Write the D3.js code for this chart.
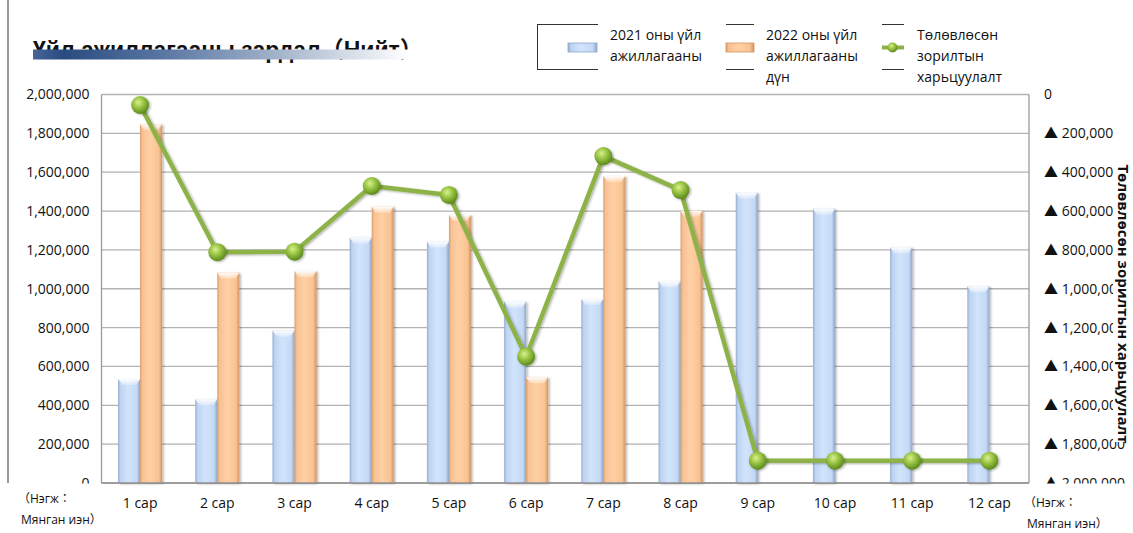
<!DOCTYPE html>
<html>
<head>
<meta charset="utf-8">
<script src="https://cdn.jsdelivr.net/npm/d3@7/dist/d3.min.js"></script>
<style>
  html, body { margin: 0; padding: 0; background: #fff; }
  svg { display: block; }
</style>
</head>
<body>
<svg id="chart" width="1133" height="533"></svg>
<script>
// Monthly categories
const categories = ['1 сар', '2 сар', '3 сар', '4 сар', '5 сар', '6 сар',
                    '7 сар', '8 сар', '9 сар', '10 сар', '11 сар', '12 сар'];

// 2021 operations (left axis)
const ops2021 = [535000, 431000, 784000, 1263000, 1242000, 933000,
                 947000, 1038000, 1494000, 1412000, 1213000, 1013000];

// 2022 operations result (left axis), only first 8 months
const ops2022 = [1847000, 1083000, 1091000, 1422000, 1380000, 544000,
                 1580000, 1402000, null, null, null, null];

// Plan target comparison (right axis, reversed)
const planCompare = [54000, 812000, 809000, 471000, 517000, 1350000,
                     317000, 492000, 1885000, 1885000, 1885000, 1885000];

// Axis ticks
const leftTicks = [0, 200000, 400000, 600000, 800000, 1000000,
                   1200000, 1400000, 1600000, 1800000, 2000000];
const rightTicks = leftTicks;

const seriesNames = ['2021 оны үйл ажиллагааны', '2022 оны үйл ажиллагааны дүн', 'Төлөвлөсөн зорилтын харьцуулалт'];

const svg = d3.select('#chart');
const FONT = "'Open Sans', 'Noto Sans', 'Noto Sans CJK JP', sans-serif";

const plot = { left: 101.5, right: 1029, top: 94.5, bottom: 483 };

const x0 = d3.scaleBand().domain(categories)
  .range([plot.left, 1028]).paddingInner(0.43).paddingOuter(0.215);
const x1 = d3.scaleBand().domain(['a', 'b']).range([0, x0.bandwidth()]);
const y = d3.scaleLinear().domain([0, 2000000]).range([plot.bottom, plot.top]);
const yR = d3.scaleLinear().domain([0, 2000000]).range([plot.top, plot.bottom]);

// ---- defs: gradients, filters, clip
const defs = svg.append('defs');

function hGrad(id, stops) {
  const g = defs.append('linearGradient').attr('id', id)
    .attr('x1', '0%').attr('x2', '100%').attr('y1', '0%').attr('y2', '0%');
  stops.forEach(s => g.append('stop').attr('offset', s[0]).attr('stop-color', s[1]));
}
hGrad('gBlue', [['0%', '#93abd0'], ['10%', '#bdd3f1'], ['45%', '#d2e4fc'], ['85%', '#c4d9f5'], ['100%', '#8ea6ca']]);
hGrad('gOrange', [['0%', '#d99c68'], ['10%', '#f7c193'], ['45%', '#ffd0a4'], ['85%', '#f9c393'], ['100%', '#d4945f']]);
hGrad('gTitle', [['0%', '#47669a'], ['8%', '#2a4b80'], ['35%', '#5a77a3'], ['65%', '#a3b3ca'], ['100%', '#ffffff']]);

const bevel = defs.append('linearGradient').attr('id', 'gBevel')
  .attr('x1', '0%').attr('x2', '0%').attr('y1', '0%').attr('y2', '100%');
bevel.append('stop').attr('offset', '0%').attr('stop-color', '#ffffff').attr('stop-opacity', 0.95);
bevel.append('stop').attr('offset', '100%').attr('stop-color', '#ffffff').attr('stop-opacity', 0.25);

const rg = defs.append('radialGradient').attr('id', 'gDot')
  .attr('cx', '40%').attr('cy', '35%').attr('r', '65%');
rg.append('stop').attr('offset', '0%').attr('stop-color', '#d8f08e');
rg.append('stop').attr('offset', '45%').attr('stop-color', '#9cc646');
rg.append('stop').attr('offset', '100%').attr('stop-color', '#5b8a1c');

const shadow = defs.append('filter').attr('id', 'shadow')
  .attr('x', '-30%').attr('y', '-10%').attr('width', '160%').attr('height', '130%');
shadow.append('feDropShadow').attr('dx', 1.5).attr('dy', 1).attr('stdDeviation', 1.2)
  .attr('flood-color', '#000').attr('flood-opacity', 0.3);

// tick labels are cut off just below the plot's bottom edge
defs.append('clipPath').attr('id', 'labelClip')
  .append('rect').attr('x', 0).attr('y', 0).attr('width', 1133).attr('height', 483.5);

// ---- frame line at left
svg.append('line').attr('x1', 8).attr('x2', 8).attr('y1', 0).attr('y2', 483)
  .attr('stroke', '#9a9a9a').attr('stroke-width', 2);

// ---- gridlines
svg.append('g').selectAll('line').data(leftTicks).join('line')
  .attr('x1', plot.left).attr('x2', plot.right)
  .attr('y1', d => y(d)).attr('y2', d => y(d))
  .attr('stroke', '#b2b2b2').attr('stroke-width', 1.3);

// ---- axes lines
svg.append('line').attr('x1', plot.left).attr('x2', plot.left)
  .attr('y1', plot.top).attr('y2', plot.bottom).attr('stroke', '#9a9a9a').attr('stroke-width', 1.3);
svg.append('line').attr('x1', plot.right).attr('x2', plot.right)
  .attr('y1', plot.top).attr('y2', plot.bottom).attr('stroke', '#9a9a9a').attr('stroke-width', 1.3);

const labelLayer = svg.append('g').attr('clip-path', 'url(#labelClip)');

// ---- left axis labels
const leftAxis = d3.axisLeft(y).tickValues(leftTicks).tickFormat(d3.format(',')).tickSize(0).tickPadding(12);
const gL = labelLayer.append('g').attr('transform', `translate(${plot.left},0)`).call(leftAxis);
gL.select('.domain').remove();
gL.selectAll('text').attr('font-family', FONT).attr('font-size', 14).attr('fill', '#111');

// ---- right axis labels
const rightAxis = d3.axisRight(yR).tickValues(rightTicks)
  .tickFormat(d => d === 0 ? '0' : '▲ ' + d3.format(',')(d)).tickSize(0).tickPadding(15);
const gR = labelLayer.append('g').attr('transform', `translate(${plot.right},0)`).call(rightAxis);
gR.select('.domain').remove();
gR.selectAll('text').attr('font-family', FONT).attr('font-size', 14).attr('fill', '#111');

// ---- bars
function drawBars(values, key, fill) {
  const g = svg.append('g');
  const data = values.map((v, i) => ({ v, c: categories[i] })).filter(d => d.v != null);
  const grp = g.selectAll('g').data(data).join('g').attr('filter', 'url(#shadow)');
  grp.append('rect')
    .attr('x', d => x0(d.c) + x1(key))
    .attr('y', d => y(d.v))
    .attr('width', x1.bandwidth())
    .attr('height', d => y(0) - y(d.v))
    .attr('fill', fill);
  // bevelled top highlight
  grp.append('path')
    .attr('d', d => {
      const xa = x0(d.c) + x1(key), xb = xa + x1.bandwidth(), t = y(d.v);
      return `M${xa},${t}L${xb},${t}L${xb - 4},${t + 6}L${xa + 4},${t + 6}Z`;
    })
    .attr('fill', 'url(#gBevel)');
}
drawBars(ops2021, 'a', 'url(#gBlue)');
drawBars(ops2022, 'b', 'url(#gOrange)');

// ---- x axis line and category labels
svg.append('line').attr('x1', plot.left).attr('x2', plot.right)
  .attr('y1', plot.bottom).attr('y2', plot.bottom).attr('stroke', '#8f8f8f').attr('stroke-width', 1.5);
const xAxis = d3.axisBottom(x0).tickSize(0).tickPadding(0);
const gX = svg.append('g').attr('transform', 'translate(0,508)').call(xAxis);
gX.select('.domain').remove();
gX.selectAll('text').attr('dy', 0).attr('font-family', FONT).attr('font-size', 14).attr('fill', '#111');

// ---- comparison line
const lineGen = d3.line()
  .x((d, i) => x0(categories[i]) + x0.bandwidth() / 2)
  .y(d => yR(d));
svg.append('path').datum(planCompare)
  .attr('d', lineGen).attr('fill', 'none')
  .attr('stroke', '#8db246').attr('stroke-width', 4.5).attr('stroke-linejoin', 'round')
  .attr('filter', 'url(#shadow)');
svg.append('g').selectAll('circle').data(planCompare).join('circle')
  .attr('cx', (d, i) => x0(categories[i]) + x0.bandwidth() / 2)
  .attr('cy', d => yR(d))
  .attr('r', 9)
  .attr('fill', 'url(#gDot)')
  .attr('filter', 'url(#shadow)');

// ---- unit labels
function unit(xp, y1, y2) {
  svg.append('text').attr('x', xp).attr('y', y1).text('（Нэгж：')
    .attr('font-family', FONT).attr('font-size', 12).attr('fill', '#111');
  svg.append('text').attr('x', xp + 3).attr('y', y2).text('Мянган иэн）')
    .attr('font-family', FONT).attr('font-size', 12).attr('fill', '#111');
}
unit(18, 503, 524);
unit(1024, 507, 528);

// ---- right axis title with white backing
const rTitle = svg.append('g').attr('transform', 'translate(1123,304) rotate(90)');
rTitle.append('rect').attr('x', -138).attr('y', -8).attr('width', 276).attr('height', 18).attr('fill', '#fff');
rTitle.append('text').attr('text-anchor', 'middle').attr('dy', '0.35em')
  .attr('font-family', FONT).attr('font-size', 15).attr('font-weight', 'bold').attr('fill', '#111')
  .text(seriesNames[2]);

// ---- chart title with gradient bar
svg.append('text').attr('x', 33).attr('y', 58)
  .attr('font-family', "'Liberation Sans', Arial, 'Noto Sans CJK JP', sans-serif")
  .attr('font-size', 23).attr('font-weight', 'bold').attr('fill', '#111')
  .text('Үйл ажиллагааны зардал（Нийт）');
svg.append('rect').attr('x', 33).attr('y', 49.5).attr('width', 376).attr('height', 10)
  .attr('fill', 'url(#gTitle)');

// ---- legend
const legend = svg.append('g');
const lineCol = '#333';
function hl(xa, xb, yy) {
  legend.append('line').attr('x1', xa).attr('x2', xb).attr('y1', yy).attr('y2', yy)
    .attr('stroke', lineCol).attr('stroke-width', 1);
}
// entry 1 frame
hl(537, 598, 24.5); hl(537, 598, 69.5);
legend.append('line').attr('x1', 537.5).attr('x2', 537.5).attr('y1', 24.5).attr('y2', 69.5)
  .attr('stroke', lineCol).attr('stroke-width', 1);
// entry 2 / 3 frames
hl(726, 754, 24.5); hl(726, 754, 69.5);
hl(882, 904, 24.5); hl(882, 904, 69.5);

legend.append('rect').attr('x', 568).attr('y', 43).attr('width', 29).attr('height', 9)
  .attr('fill', 'url(#gBlue)').attr('stroke', '#8ea6ca').attr('stroke-width', 0.8);
legend.append('rect').attr('x', 726).attr('y', 43).attr('width', 28).attr('height', 9)
  .attr('fill', 'url(#gOrange)').attr('stroke', '#d4945f').attr('stroke-width', 0.8);
legend.append('line').attr('x1', 882).attr('x2', 904).attr('y1', 47.5).attr('y2', 47.5)
  .attr('stroke', '#8db246').attr('stroke-width', 4);
legend.append('circle').attr('cx', 892.5).attr('cy', 47.5).attr('r', 5).attr('fill', 'url(#gDot)');

const legendLines = [
  { x: 610, lines: ['2021 оны үйл', 'ажиллагааны'] },
  { x: 766, lines: ['2022 оны үйл', 'ажиллагааны', 'дүн'] },
  { x: 917, lines: ['Төлөвлөсөн', 'зорилтын', 'харьцуулалт'] }
];
legendLines.forEach(e => {
  e.lines.forEach((t, i) => {
    legend.append('text').attr('x', e.x).attr('y', 40 + i * 21).text(t)
      .attr('font-family', FONT).attr('font-size', 14).attr('fill', '#111');
  });
});
</script>
</body>
</html>
